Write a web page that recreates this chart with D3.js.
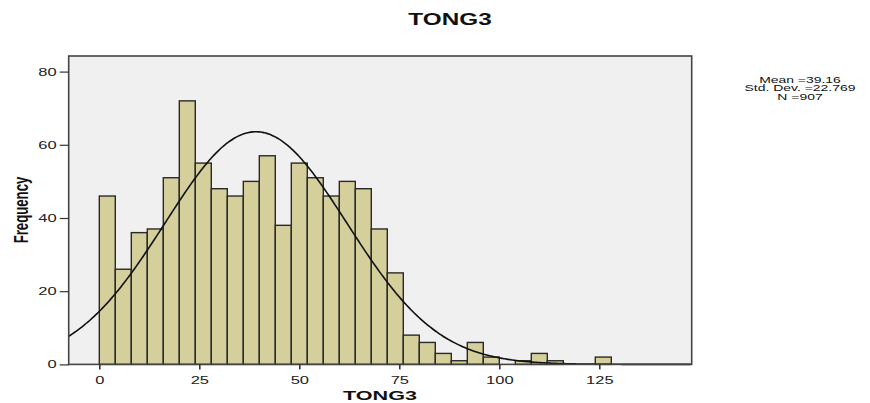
<!DOCTYPE html>
<html>
<head>
<meta charset="utf-8">
<script src="https://cdn.jsdelivr.net/npm/d3@7"></script>
<style>
  html, body { margin: 0; padding: 0; background: #fff; }
  svg { display: block; }
  text { font-family: Arial, "Liberation Sans", sans-serif; }
</style>
</head>
<body>
<svg id="chart" width="870" height="403"></svg>
<script>
// ---- data ----
const binStarts = [0,4,8,12,16,20,24,28,32,36,40,44,48,52,56,60,64,68,72,76,80,84,88,92,96,100,104,108,112,116,120,124];
const binCounts = [46,26,36,37,51,72,55,48,46,50,57,38,55,51,46,50,48,37,25,8,6,3,1,6,2,0,1,3,1,0,0,2];
const binWidth = 4;
const xTicks = [0,25,50,75,100,125];
const yTicks = [0,20,40,60,80];
const statMean = 39.16;
const statSD = 22.769;
const statN = 907;
const statLabels = ["Mean =39.16", "Std. Dev. =22.769", "N =907"];
const chartTitle = "TONG3";
const xTitle = "TONG3";
const yTitle = "Frequency";

// ---- layout ----
const svg = d3.select("#chart");
const plot = { left: 68.7, right: 691.7, top: 56, bottom: 364.4 };
const SX = 1.5; // horizontal text stretch seen in the reference

const x = d3.scaleLinear().domain([-7.65, 148.1]).range([plot.left, plot.right]);
const y = d3.scaleLinear().domain([0, 84.26]).range([plot.bottom, plot.top]);

// plot background
svg.append("rect")
  .attr("x", plot.left).attr("y", plot.top)
  .attr("width", plot.right - plot.left).attr("height", plot.bottom - plot.top)
  .attr("fill", "#f0f0f0");

// bars
svg.append("g").selectAll("rect")
  .data(binStarts.map((s, i) => ({ s, c: binCounts[i] })).filter(d => d.c > 0))
  .join("rect")
  .attr("x", d => x(d.s))
  .attr("y", d => y(d.c))
  .attr("width", d => x(d.s + binWidth) - x(d.s))
  .attr("height", d => y(0) - y(d.c))
  .attr("fill", "#d4cf9b")
  .attr("stroke", "#2a2a2a")
  .attr("stroke-width", 1.4);

// normal curve
const scaleN = statN * binWidth / (statSD * Math.sqrt(2 * Math.PI));
const curvePts = d3.range(-7.65, 148.11, 0.5).map(v => [v, scaleN * Math.exp(-0.5 * Math.pow((v - statMean) / statSD, 2))]);
svg.append("path")
  .datum(curvePts)
  .attr("fill", "none")
  .attr("stroke", "#111")
  .attr("stroke-width", 1.6)
  .attr("d", d3.line().x(d => x(d[0])).y(d => y(d[1])).curve(d3.curveBasis));

// frame
svg.append("rect")
  .attr("x", plot.left).attr("y", plot.top)
  .attr("width", plot.right - plot.left).attr("height", plot.bottom - plot.top)
  .attr("fill", "none").attr("stroke", "#444").attr("stroke-width", 1.6);

// y axis
const yAxis = svg.append("g")
  .attr("transform", `translate(${plot.left},0)`)
  .call(d3.axisLeft(y).tickValues(yTicks).tickSize(9).tickFormat(d3.format("d")));
yAxis.select(".domain").remove();
yAxis.selectAll("line").attr("stroke", "#333").attr("stroke-width", 1.2);
yAxis.selectAll("text")
  .attr("x", 0)
  .attr("transform", `translate(-12,0) scale(${SX},1)`)
  .attr("font-size", 11).attr("fill", "#222")
  .style("font-family", "Arial, 'Liberation Sans', sans-serif");

// x axis
const xAxis = svg.append("g")
  .attr("transform", `translate(0,${plot.bottom})`)
  .call(d3.axisBottom(x).tickValues(xTicks).tickSize(5).tickPadding(7).tickFormat(d3.format("d")));
xAxis.select(".domain").remove();
xAxis.selectAll("line").attr("stroke", "#333").attr("stroke-width", 1.6);
xAxis.selectAll("text")
  .attr("x", 0)
  .attr("transform", `scale(${SX},1)`)
  .attr("font-size", 11).attr("fill", "#222")
  .style("font-family", "Arial, 'Liberation Sans', sans-serif");

// titles
svg.append("text")
  .attr("transform", `translate(450,25) scale(1.52,1)`)
  .attr("text-anchor", "middle")
  .attr("font-size", 16).attr("font-weight", "bold").attr("fill", "#111")
  .text(chartTitle);

svg.append("text")
  .attr("transform", `translate(380,400) scale(1.6,1)`)
  .attr("text-anchor", "middle")
  .attr("font-size", 13.5).attr("font-weight", "bold").attr("fill", "#111")
  .text(xTitle);

svg.append("text")
  .attr("transform", `translate(28.3,210) scale(${SX},1) rotate(-90)`)
  .attr("text-anchor", "middle")
  .attr("font-size", 13.2).attr("font-weight", "bold").attr("fill", "#111")
  .text(yTitle);

// stats box
svg.append("g").selectAll("text")
  .data(statLabels)
  .join("text")
  .attr("transform", (d, i) => `translate(800,${83 + i * 8.4}) scale(1.55,1)`)
  .attr("text-anchor", "middle")
  .attr("font-size", 9).attr("fill", "#111")
  .text(d => d);
</script>
</body>
</html>
